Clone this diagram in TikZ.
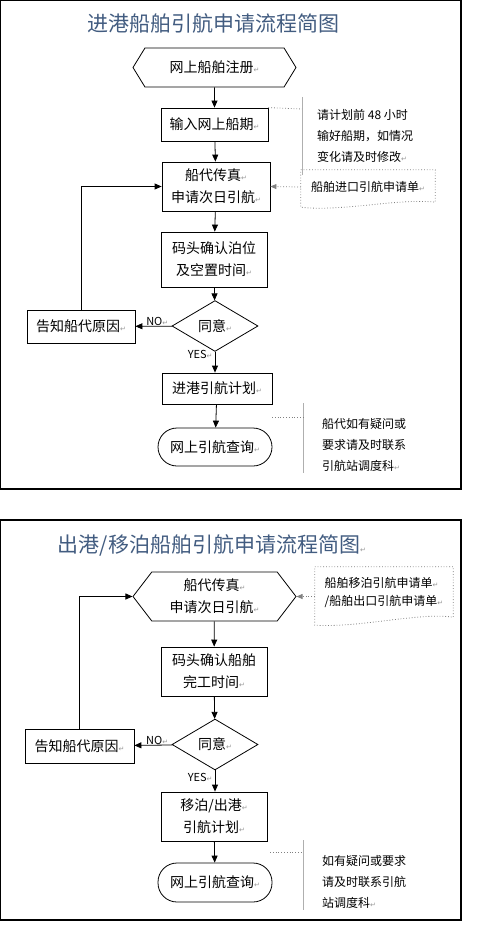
\documentclass[tikz,border=0pt]{standalone}
\usepackage{fontspec}
\setmainfont{Noto Sans CJK SC}
\newfontfamily\retfont{DejaVu Sans}
\usetikzlibrary{arrows.meta, positioning, calc, shapes.geometric, shapes.symbols}
\definecolor{TitleBlue}{RGB}{66, 92, 128}
\definecolor{MarkGray}{RGB}{150, 150, 150}
\definecolor{LineGray}{RGB}{175, 175, 175}
\newcommand{\pmark}{{\retfont\fontsize{7}{7}\selectfont\color{MarkGray}↵}}

\begin{document}
\begin{tikzpicture}[
      x=1pt, y=-1pt,
      box/.style={draw, line width=0.8pt, minimum width=106pt, minimum height=33pt,
                  align=center, font=\fontsize{14}{22}\selectfont, inner sep=1pt},
      hexa/.style={box, signal, signal to=west and east, minimum width=163pt},
      decide/.style={box, diamond, minimum width=86pt, minimum height=48pt},
      stadium/.style={box, rounded corners=19pt, minimum width=114pt, minimum height=38pt},
      doc/.style={minimum width=134pt, minimum height=34pt, align=left,
                  font=\fontsize{12}{18}\selectfont, inner sep=0pt},
      note/.style={anchor=west, align=left, font=\fontsize{12}{21}\selectfont, inner sep=0pt},
      title/.style={font=\fontsize{21}{24}\selectfont, TitleBlue},
      lab/.style={font=\fontsize{11}{11}\selectfont, inner sep=1pt},
      arr/.style={-{Triangle[length=7pt, width=6pt]}, line width=0.8pt},
      darr/.style={-{Triangle[length=6pt, width=5pt]}, dotted, line width=0.8pt, gray},
      docline/.style={dotted, line width=0.8pt, gray},
      brace/.style={LineGray, line width=0.8pt},
      frame/.style={line width=1.2pt}
    ]
      \useasboundingbox (0,0) rectangle (480,931);

      % inbound
      \draw[frame] (0.6,0.6) rectangle (461,489);
      \node[title] (t1) at (213,23) {进港船舶引航申请流程简图};

      \node[hexa, minimum height=39pt, signal pointer angle=117] (reg) at (214.5,67.5) {网上船舶注册\pmark};
      \node[box, minimum width=107pt] (input) at (214.5,124.5) {输入网上船期\pmark};
      \node[box, minimum width=108pt, minimum height=49pt] (fax) at (216,186.5) {船代传真\pmark\\申请次日引航\pmark};
      \node[box, minimum height=55pt] (berth) at (214,259.5) {码头确认泊位\\及空置时间\pmark};
      \node[decide] (agree) at (215,326) {同意\pmark};
      \node[box, minimum width=108pt] (notify) at (81,326.5) {告知船代原因\pmark};
      \node[box, minimum width=110pt, minimum height=31pt] (plan) at (217,388.5) {进港引航计划\pmark};
      \node[stadium] (query) at (215,447) {网上引航查询\pmark};

      \draw[arr] (reg) -- (input);
      \draw[arr] (input) -- (fax);
      \draw[arr] (fax) -- (berth);
      \draw[arr] (berth) -- (agree);
      \draw[arr] (agree) -- (notify) node[lab, pos=0.4, above=-1pt] {NO\pmark};
      \draw[arr] (agree) -- (agree |- plan.north) node[lab, pos=0.15, left=1pt] {YES\pmark};
      \draw[arr] (notify.north) |- (fax.west);
      \draw[arr] (plan) -- (query);

      % notes
      \coordinate (b1) at (302,109);
      \draw[brace] (302,97) -- (302,175);
      \draw[docline] (input.north east) -- (b1);
      \node[note] (n1) at (317,136) {请计划前 48 小时\\输好船期，如情况\\变化请及时修改\pmark};

      \node[doc] (doc1) at (368,187) {船舶进口引航申请单\pmark};
      \draw[docline] (doc1.north west) -- (doc1.north east) -- ($(doc1.south east)+(0,-2)$)
        .. controls (400,198) and (340,212) .. ($(doc1.south west)+(0,3)$) -- cycle;
      \draw[darr] (doc1.west) -- (fax.east);

      \coordinate (b2) at (303,417);
      \draw[brace] (303,403) -- (303,473);
      \draw[docline] (272,417) -- (b2);
      \node[note] (n2) at (322,445) {船代如有疑问或\\要求请及时联系\\引航站调度科\pmark};

      % outbound / shifting
      \draw[frame] (0.6,520) rectangle (461,920);
      \node[title] (t2) at (212,545) {出港/移泊船舶引航申请流程简图\pmark};

      \node[hexa, minimum height=49pt, signal pointer angle=105] (fax2) at (214.5,596.5) {船代传真\pmark\\申请次日引航\pmark};
      \node[box, minimum height=49pt] (berth2) at (214,671.5) {码头确认船舶\\完工时间\pmark};
      \node[decide, minimum height=49pt] (agree2) at (215,744.5) {同意\pmark};
      \node[box, minimum width=109pt, minimum height=34pt] (notify2) at (79.5,746) {告知船代原因\pmark};
      \node[box, minimum height=49pt] (plan2) at (214,816.5) {移泊/出港\pmark\\引航计划\pmark};
      \node[stadium, minimum height=39pt] (query2) at (215,882.5) {网上引航查询\pmark};

      \draw[arr] (fax2) -- (berth2);
      \draw[arr] (berth2) -- (agree2);
      \draw[arr] (agree2) -- (notify2) node[lab, pos=0.4, above=-1pt] {NO\pmark};
      \draw[arr] (agree2) -- (agree2 |- plan2.north) node[lab, pos=0.35, left=1pt] {YES\pmark};
      \draw[arr] (notify2.north) |- (fax2.west);
      \draw[arr] (plan2) -- (query2);

      \node[doc, minimum width=138pt, minimum height=50pt] (doc2) at (384,592) {船舶移泊引航申请单\pmark\\/船舶出口引航申请单\pmark};
      \draw[docline] (doc2.north west) -- (doc2.north east) -- ($(doc2.south east)+(0,0)$)
        .. controls (420,612) and (360,628) .. ($(doc2.south west)+(0,8)$) -- cycle;
      \draw[darr] (doc2.west |- fax2) -- (fax2.east);

      \coordinate (b3) at (303,852);
      \draw[brace] (303,840) -- (303,910);
      \draw[docline] (270,852) -- (b3);
      \node[note] (n3) at (322,882) {如有疑问或要求\\请及时联系引航\\站调度科\pmark};
    \end{tikzpicture}
\end{document}
